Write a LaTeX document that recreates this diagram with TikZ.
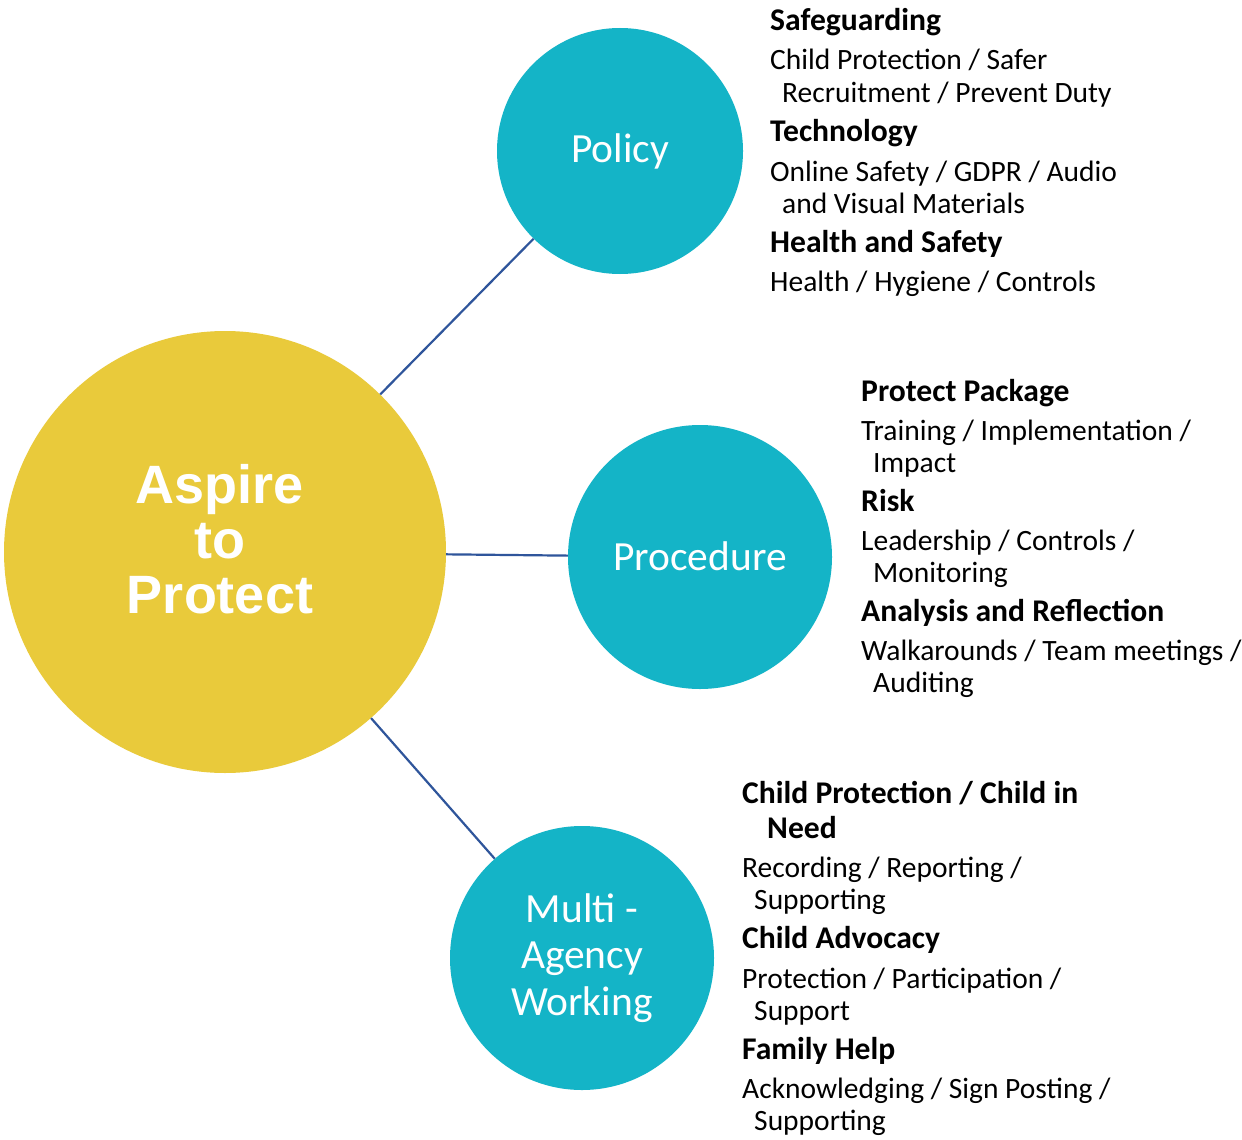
\documentclass[tikz,border=0pt]{standalone}
\usepackage{fontspec}
\setmainfont{Carlito}
\newfontfamily\aspfont{Liberation Sans}
\definecolor{aspyellow}{HTML}{E9CA3B}
\definecolor{tealc}{HTML}{14B4C7}
\definecolor{linkblue}{HTML}{2F559B}
\begin{document}
\begin{tikzpicture}[x=1pt,y=-1pt,
  hub/.style={circle,fill=aspyellow,draw=none,inner sep=0pt,minimum size=442pt},
  spoke/.style={circle,fill=tealc,draw=none,inner sep=0pt,text=white,align=center,
     font=\fontsize{41.5}{46.5}\selectfont},
  link/.style={draw=linkblue,line width=2.2pt},
  head/.style={anchor=base west,inner sep=0pt,font=\fontsize{31.6}{32}\selectfont\bfseries},
  body/.style={anchor=base west,inner sep=0pt,font=\fontsize{29.5}{32}\selectfont}]
\useasboundingbox (0,0) rectangle (1242,1140);
\fill[white] (0,0) rectangle (1242,1140);

\node[hub] (asp) at (225,552) {};
\node[text=white,align=center,inner sep=0pt,font=\fontsize{54}{55}\selectfont\aspfont\bfseries] (asptxt) at (220,539) {Aspire\\to\\Protect};

\node[spoke,minimum size=246pt] (pol) at (620,151) {\raisebox{-3pt}{Policy}};
\node[spoke,minimum size=264pt] (pro) at (700,557) {\raisebox{1pt}{Procedure}};
\node[spoke,minimum size=264pt] (mul) at (582,958) {\raisebox{-2pt}{\parbox{200pt}{\centering Multi -\\Agency\\Working}}};

\draw[link] (asp) -- (pol);
\draw[link] (asp) -- (pro);
\draw[link] (asp) -- (mul);

% Policy details
\node[head] (p1) at (770,31) {Safeguarding};
\node[body] (p2) at (770,70) {Child Protection / Safer};
\node[body] (p3) at (782,102) {Recruitment / Prevent Duty};
\node[head] (p4) at (770,141) {Technology};
\node[body] (p5) at (770,181) {Online Safety / GDPR / Audio};
\node[body] (p6) at (782,213) {and Visual Materials};
\node[head] (p7) at (770,252) {Health and Safety};
\node[body] (p8) at (770,291) {Health / Hygiene / Controls};

% Procedure details
\node[head] (r1) at (861,401) {Protect Package};
\node[body] (r2) at (861,440) {Training / Implementation /};
\node[body] (r3) at (873,472) {Impact};
\node[head] (r4) at (861,511) {Risk};
\node[body] (r5) at (861,550) {Leadership / Controls /};
\node[body] (r6) at (873,582) {Monitoring};
\node[head] (r7) at (861,621) {Analysis and Reflection};
\node[body] (r8) at (861,660) {Walkarounds / Team meetings /};
\node[body] (r9) at (873,692) {Auditing};

% Multi-Agency details
\node[head] (m1) at (742,803) {Child Protection / Child in};
\node[head] (m2) at (767,838) {Need};
\node[body] (m3) at (742,877) {Recording / Reporting /};
\node[body] (m4) at (754,909) {Supporting};
\node[head] (m5) at (742,948) {Child Advocacy};
\node[body] (m6) at (742,988) {Protection / Participation /};
\node[body] (m7) at (754,1020) {Support};
\node[head] (m8) at (742,1059) {Family Help};
\node[body] (m9) at (742,1098) {Acknowledging / Sign Posting /};
\node[body] (m10) at (754,1130) {Supporting};
\end{tikzpicture}
\end{document}
